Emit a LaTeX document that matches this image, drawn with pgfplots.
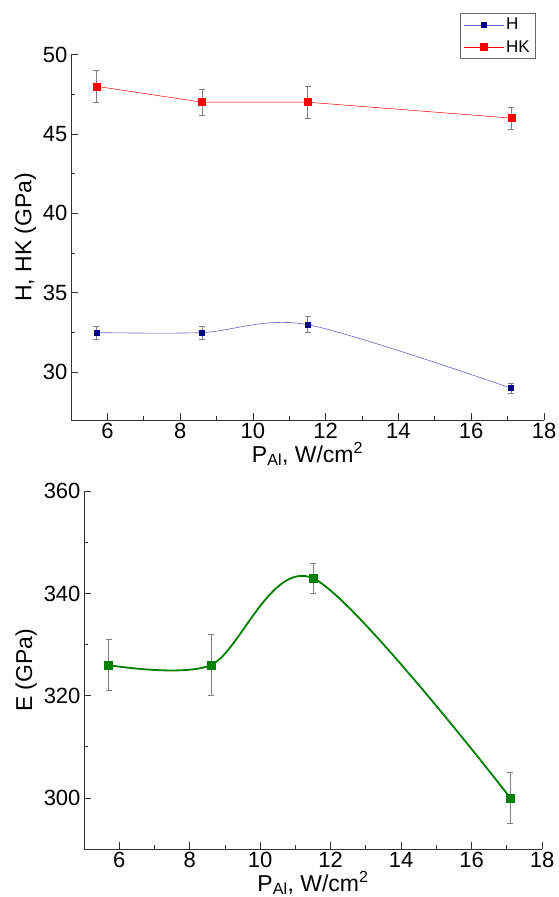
\documentclass[border=0pt]{standalone}
\usepackage{pgfplots}
\pgfplotsset{compat=1.18}
\usepackage{fontspec}
\setmainfont{Liberation Sans}
\definecolor{hnavy}{RGB}{0,0,128}
\definecolor{hline}{RGB}{100,100,200}
\definecolor{hkred}{RGB}{255,0,0}
\definecolor{egreen}{RGB}{0,128,0}
\begin{document}
\begin{tikzpicture}
\useasboundingbox (0pt,0pt) rectangle (558pt,-897pt);
\pgfplotsset{
  every axis/.append style={
    scale only axis,
    axis lines*=left,
    tick align=inside,
    axis line style={black!80, line width=0.8pt},
    every tick/.style={black!80, line width=0.8pt},
    major tick length=7pt,
    minor tick length=4pt,
    tick label style={font=\fontsize{22}{26}\selectfont},
    label style={font=\fontsize{23}{27}\selectfont},
    xlabel style={yshift=4pt},
    /pgf/number format/assume math mode=true,
    xmin=5, xmax=18,
    xtick={6,8,...,18},
    minor x tick num=1,
    minor y tick num=1,
    xlabel={P\textsubscript{Al}, W/cm\textsuperscript{2}},
  },
  errs/.style={
    error bars/.cd, y dir=both, y explicit,
    error bar style={gray, line width=0.6pt},
    error mark options={rotate=90, mark size=3pt, gray, line width=0.6pt},
    /pgfplots/.cd,
  },
  longleg/.style={
    legend image code/.code={
      \draw[mark repeat=2, mark phase=2, ##1]
        plot coordinates {(0pt,0pt) (20pt,0pt) (40pt,0pt)};
    },
  },
}
% top panel: hardness
\begin{axis}[
  at={(71pt,-420pt)}, anchor=south west,
  width=473pt, height=365.5pt,
  ymin=27, ymax=50,
  ytick={30,35,...,50},
  ylabel={H, HK (GPa)},
  legend style={at={(0.981,1.1135)}, anchor=north east, draw=black!60,
    font=\fontsize{17}{20}\selectfont, legend cell align=left,
    inner sep=3pt, row sep=5pt},
]
\addplot[hline, line width=0.6pt, smooth, mark=square*, mark size=2.5pt,
  mark options={fill=hnavy, draw=hnavy}, longleg, errs]
  coordinates {(5.7,32.5) +- (0,0.4) (8.6,32.5) +- (0,0.4) (11.5,33.0) +- (0,0.5) (17.1,29.0) +- (0,0.3)};
\addplot[hkred, line width=0.5pt, mark=square*, mark size=3.5pt,
  mark options={fill=hkred, draw=hkred}, longleg, errs]
  coordinates {(5.7,48.0) +- (0,1.0) (8.6,47.0) +- (0,0.8) (11.5,47.0) +- (0,1.0) (17.1,46.0) +- (0,0.7)};
\legend{H,HK}
\end{axis}
% bottom panel: modulus
\begin{axis}[
  at={(84pt,-849pt)}, anchor=south west,
  width=458pt, height=357.6pt,
  ymin=290, ymax=360,
  ytick={300,320,340,360},
  ylabel={E (GPa)},
]
\addplot[egreen, line width=1.8pt, smooth, mark=square*, mark size=4pt,
  mark options={fill=egreen, draw=egreen, line width=0.5pt}, errs]
  coordinates {(5.7,326) +- (0,5) (8.6,326) +- (0,6) (11.5,343) +- (0,3) (17.1,300) +- (0,5)};
\end{axis}
\end{tikzpicture}
\end{document}
